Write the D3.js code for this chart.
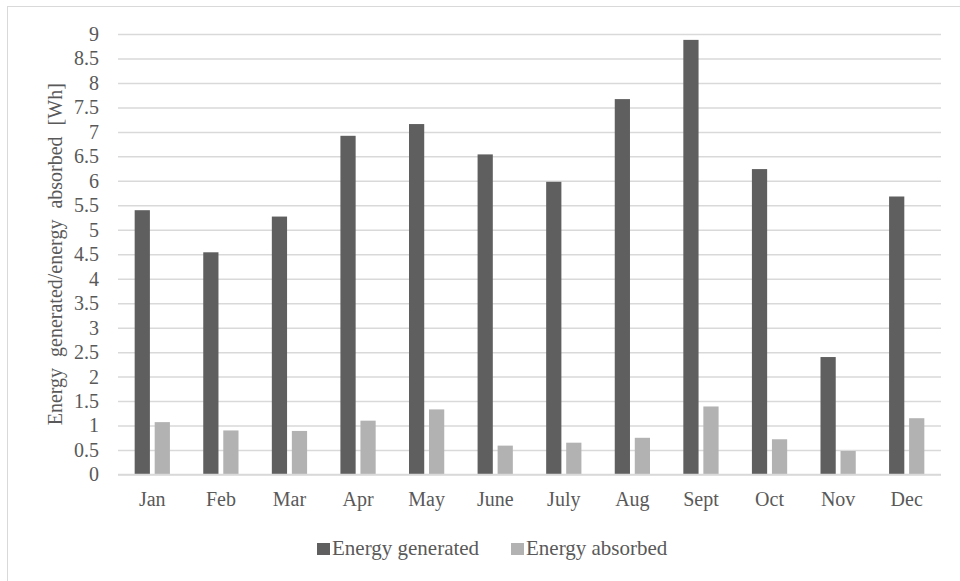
<!DOCTYPE html>
<html>
<head>
<meta charset="utf-8">
<script src="https://cdn.jsdelivr.net/npm/d3@7"></script>
<style>
  html, body { margin: 0; padding: 0; background: #fff; }
  svg { display: block; }
  svg text { font-family: "Liberation Serif", "Times New Roman", Times, "DejaVu Serif", serif !important; }
</style>
</head>
<body>
<svg id="chart" width="960" height="581"></svg>
<script>
// Monthly energy figures [Wh]
const months = ["Jan", "Feb", "Mar", "Apr", "May", "June", "July", "Aug", "Sept", "Oct", "Nov", "Dec"];
const generated = [5.40, 4.54, 5.27, 6.92, 7.16, 6.54, 5.98, 7.67, 8.88, 6.24, 2.40, 5.68];
const absorbed = [1.07, 0.90, 0.89, 1.10, 1.33, 0.59, 0.65, 0.75, 1.39, 0.72, 0.48, 1.15];
const seriesNames = ["Energy generated", "Energy absorbed"];
const yTicks = [0, 0.5, 1, 1.5, 2, 2.5, 3, 3.5, 4, 4.5, 5, 5.5, 6, 6.5, 7, 7.5, 8, 8.5, 9];

const colors = ["#5f5f5f", "#b2b2b2"];
const textColor = "#595959";
const fontSize = 20;

const svg = d3.select("#chart");

// outer chart frame
svg.append("rect")
  .attr("x", 7.5).attr("y", 6.5)
  .attr("width", 1000).attr("height", 1000)
  .attr("fill", "none").attr("stroke", "#d9d9d9").attr("stroke-width", 1);

const plot = { left: 118, right: 941, top: 34, bottom: 474.5 };

const x = d3.scaleBand().domain(months).range([plot.left, plot.right]).paddingInner(0).paddingOuter(0);
const y = d3.scaleLinear().domain([0, 9]).range([plot.bottom, plot.top]);

// gridlines + value labels
const yAxis = d3.axisLeft(y).tickValues(yTicks).tickSize(-(plot.right - plot.left)).tickFormat(d3.format("~g")).tickPadding(19);
const gy = svg.append("g").attr("transform", `translate(${plot.left},0)`).call(yAxis);
gy.select(".domain").remove();
gy.selectAll(".tick line").attr("stroke", "#d9d9d9").attr("stroke-width", 1.5);
gy.selectAll(".tick text").attr("fill", textColor).attr("font-size", fontSize);

// bars
const barW = x.bandwidth() * 0.222;
const gap = x.bandwidth() * 0.07;
const groupOffset = (x.bandwidth() - (2 * barW + gap)) / 2;
const seriesData = [generated, absorbed];

seriesData.forEach((vals, si) => {
  svg.append("g").selectAll("rect")
    .data(vals)
    .join("rect")
    .attr("x", (d, i) => x(months[i]) + groupOffset + si * (barW + gap))
    .attr("y", d => y(d))
    .attr("width", barW)
    .attr("height", d => y(0) - y(d))
    .attr("fill", colors[si]);
});

// baseline
svg.append("line")
  .attr("x1", plot.left).attr("x2", plot.right)
  .attr("y1", y(0)).attr("y2", y(0))
  .attr("stroke", "#d9d9d9").attr("stroke-width", 1.5);

// month labels
const xAxis = d3.axisBottom(x).tickSize(0).tickPadding(17);
const gx = svg.append("g").attr("transform", `translate(0,${plot.bottom})`).call(xAxis);
gx.select(".domain").remove();
gx.selectAll(".tick text").attr("fill", textColor).attr("font-size", fontSize);

// y axis title
svg.append("text")
  .attr("transform", `translate(62,${(plot.top + plot.bottom) / 2}) rotate(-90)`)
  .attr("text-anchor", "middle")
  .attr("fill", textColor).attr("font-size", 20)
  .attr("word-spacing", 6)
  .text("Energy generated/energy absorbed [Wh]");

// legend
const legendItems = [
  { name: seriesNames[0], color: colors[0], x: 317 },
  { name: seriesNames[1], color: colors[1], x: 511 }
];
const lg = svg.append("g");
legendItems.forEach(item => {
  lg.append("rect")
    .attr("x", item.x).attr("y", 543)
    .attr("width", 13).attr("height", 12)
    .attr("fill", item.color);
  lg.append("text")
    .attr("x", item.x + 15).attr("y", 555)
    .attr("fill", textColor).attr("font-size", 21)
    .text(item.name);
});
</script>
</body>
</html>
